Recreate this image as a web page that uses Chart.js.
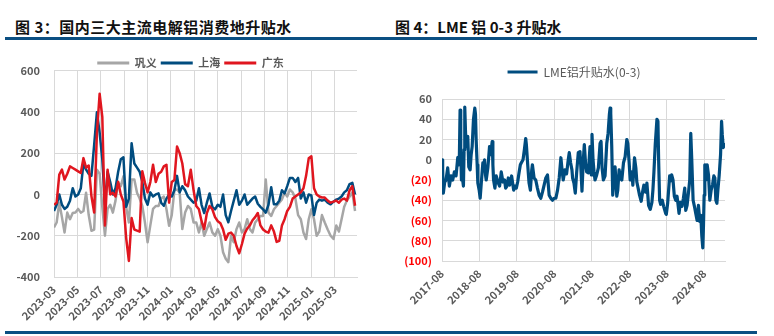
<!DOCTYPE html>
<html>
<head>
<meta charset="utf-8">
<script src="https://cdn.jsdelivr.net/npm/chart.js@4.4.1/dist/chart.umd.min.js"></script>
<style>
  body { margin: 0; background: #fff; width: 774px; height: 336px; position: relative; overflow: hidden; font-family: "Noto Sans CJK SC", sans-serif; }
  .title { position: absolute; top: 16px; font-size: 15px; font-weight: bold; color: #111; white-space: nowrap; }
  .rule { position: absolute; height: 3px; background: #0b4f82; }
  .box { position: absolute; top: 50px; height: 281px; }
</style>
</head>
<body>
<div class="title" style="left:15px;letter-spacing:0.5px">图 3：国内三大主流电解铝消费地升贴水</div>
<div class="title" style="left:395px">图 4：LME 铝 0-3 升贴水</div>
<div class="rule" style="left:5px;width:382px;top:37px"></div>
<div class="rule" style="left:387px;width:370px;top:37px"></div>
<div class="rule" style="left:5px;width:382px;top:331px"></div>
<div class="rule" style="left:387px;width:370px;top:331px"></div>
<div class="box" style="left:0;width:387px"><canvas id="c1"></canvas></div>
<div class="box" style="left:387px;width:370px"><canvas id="c2"></canvas></div>
<script>
// 图3: weekly samples
const weekDates = [
  "2023-03-01","2023-03-08","2023-03-15","2023-03-22","2023-03-29","2023-04-05","2023-04-12","2023-04-19","2023-04-26",
  "2023-05-03","2023-05-10","2023-05-17","2023-05-24","2023-05-31","2023-06-07","2023-06-14","2023-06-21","2023-06-28",
  "2023-07-05","2023-07-12","2023-07-19","2023-07-26","2023-08-02","2023-08-09","2023-08-16","2023-08-23","2023-08-30",
  "2023-09-06","2023-09-13","2023-09-20","2023-09-27","2023-10-04","2023-10-11","2023-10-18","2023-10-25",
  "2023-11-01","2023-11-08","2023-11-15","2023-11-22","2023-11-29","2023-12-06","2023-12-13","2023-12-20","2023-12-27",
  "2024-01-03","2024-01-10","2024-01-17","2024-01-24","2024-01-31","2024-02-07","2024-02-14","2024-02-21","2024-02-28",
  "2024-03-06","2024-03-13","2024-03-20","2024-03-27","2024-04-03","2024-04-10","2024-04-17","2024-04-24",
  "2024-05-01","2024-05-08","2024-05-15","2024-05-22","2024-05-29","2024-06-05","2024-06-12","2024-06-19","2024-06-26",
  "2024-07-03","2024-07-10","2024-07-17","2024-07-24","2024-07-31","2024-08-07","2024-08-14","2024-08-21","2024-08-28",
  "2024-09-04","2024-09-11","2024-09-18","2024-09-25","2024-10-02","2024-10-09","2024-10-16","2024-10-23","2024-10-30",
  "2024-11-06","2024-11-13","2024-11-20","2024-11-27","2024-12-04","2024-12-11","2024-12-18","2024-12-25",
  "2025-01-01","2025-01-08","2025-01-15","2025-01-22","2025-01-29","2025-02-05","2025-02-12","2025-02-19","2025-02-26",
  "2025-03-05","2025-03-12","2025-03-19","2025-03-26","2025-04-02","2025-04-09","2025-04-16","2025-04-23"
];
const gongyi = [
  -160,-136,-40,-110,-184,-88,-120,-90,-88,-70,
  -88,-80,8,-100,-176,-170,120,100,-60,-200,
  -70,-50,-88,-30,56,40,88,-60,-136,72,
  72,8,-20,-56,-136,-232,-150,-70,-56,-56,
  -20,-10,-72,-152,-100,20,24,10,-168,-88,
  -56,-70,-136,-136,-184,-136,-200,-168,-136,-184,
  -200,-168,-200,-280,-312,-328,-200,-232,-168,-136,
  -184,-168,-120,-168,-184,-136,-120,-104,-104,72,
  -88,-104,-72,-56,-40,-24,8,-10,24,10,
  -20,-100,-120,-184,-216,-120,-72,-120,-200,-180,
  -100,-136,-170,-200,-216,-150,-180,-120,-60,-30,
  -10,10,-80
];
const shanghai = [
  -80,-50,0,-50,-70,-60,-30,30,-10,0,
  30,150,120,100,90,240,398,300,170,-50,
  110,60,0,30,110,170,180,-60,-20,248,
  150,130,110,60,-20,-50,10,-10,0,5,
  -40,-55,-20,0,-10,20,90,10,40,20,
  -10,-25,-40,-30,30,-50,-90,-40,5,-60,
  -72,-50,-60,0,-100,-135,-80,-30,20,-50,
  -30,0,-50,-35,-20,-10,-45,-60,-72,-88,
  -50,35,-48,-48,-30,20,5,40,80,80,
  60,80,-20,10,-40,0,-5,-100,-40,-25,
  -30,-25,-40,-48,-35,-25,-20,-10,10,20,
  50,56,0
];
const guangdong = [
  -50,-40,96,120,72,100,136,128,120,112,
  104,176,130,140,-8,-88,296,488,376,-150,
  120,0,8,-10,62,0,-34,-210,-322,-114,
  -170,-175,-180,112,56,10,60,144,60,100,
  110,136,144,-40,60,70,232,200,150,50,
  40,120,20,-56,-72,-130,-168,-90,-56,-72,
  -110,-130,-140,-170,-220,-190,-185,-200,-250,-285,
  -240,-190,-165,-150,-125,-110,-90,-150,-170,-180,
  -185,-150,-180,-230,-225,-150,-120,-80,-60,-20,
  -10,0,10,30,90,175,185,30,0,-10,
  -15,-15,-30,-40,-35,-30,-40,-25,-20,-30,
  20,40,-55
];
const ticks1 = [0, 2, 4, 6, 8, 10, 12, 14, 16, 18, 20, 22, 24]; // months after 2023-03

// 图4: months after 2017-08
const lmeT = [
  0,0.21,0.43,0.86,1.29,1.82,2.36,2.89,3.43,3.97,4.50,5.04,5.36,5.57,5.79,6.00,6.22,6.54,6.86,7.07,
  7.29,7.50,7.72,8.04,8.25,8.57,9.00,9.33,9.65,10.08,10.50,10.72,10.93,11.26,11.47,11.90,12.22,12.65,13.08,13.40,
  13.61,13.93,14.15,14.68,15.22,15.54,16.08,16.29,16.51,16.94,17.36,17.90,18.44,18.97,19.51,20.04,20.37,20.79,21.22,21.65,
  22.29,22.94,23.37,23.79,24.22,24.65,25.08,25.40,25.94,26.37,26.80,27.01,27.44,27.87,28.30,28.73,28.94,29.48,30.01,30.55,
  31.09,31.62,32.16,32.69,33.23,33.77,34.30,34.84,35.38,35.91,36.45,36.99,37.52,38.06,38.49,38.81,39.34,39.88,40.42,40.74,
  41.17,41.60,41.81,42.24,42.67,43.10,43.63,44.17,44.49,44.81,45.24,45.56,45.99,46.31,46.85,47.38,47.81,48.02,48.35,48.67,
  48.99,49.52,50.06,50.60,50.92,51.24,51.67,52.20,52.74,53.17,53.59,53.81,54.02,54.34,54.66,55.09,55.41,55.95,56.27,56.70,
  57.13,57.56,58.10,58.63,59.17,59.49,59.92,60.24,60.56,60.88,61.09,61.63,62.06,62.38,62.92,63.24,63.77,64.20,64.63,65.17,
  65.60,66.13,66.67,67.20,67.52,67.85,68.27,68.81,69.13,69.35,69.67,69.99,70.53,70.96,71.60,71.81,72.24,72.88,73.20,73.53,
  73.95,74.38,74.81,75.24,75.56,75.88,76.31,76.85,77.28,77.71,78.03,78.46,78.99,79.31,79.64,79.96,80.39,80.81,81.24,81.67,
  82.10,82.53,82.85,83.17,83.49,83.71,83.92,84.14,84.46,84.89,85.32,85.74,86.17,86.60,87.03,87.35,87.67,88.00,88.32,88.75,
  89.18,89.50,89.72,90.04,90.36,90.58
];
const lmeSpread = [
  0,-10,-33,-22,-20,-8,-26,-16,-20,-12,-16,2,-5,5,49,10,-20,-18,-26,10,
  52,30,13,20,23,-7,-10,5,13,40,51,45,20,-5,-23,-30,-38,-20,-3,-10,
  0,-15,-20,-8,13,5,18,-5,-20,-28,-16,-22,-26,-12,-22,-20,-28,-26,-18,-25,
  -16,-30,-26,-28,-22,-13,-5,-3,0,10,21,15,-5,-23,-30,-10,-5,-18,-20,-28,
  -35,-38,-32,-25,-18,-15,-35,-38,-40,-38,-38,-30,-18,2,-12,-20,-10,-14,0,7,
  -3,-10,-18,-23,-33,-13,7,8,-10,-31,0,15,-5,-12,-13,13,-15,25,0,-12,
  -20,-15,-8,16,18,-8,-20,-16,16,26,45,51,46,13,-35,-15,-7,-36,-30,-10,
  -18,-20,-3,3,20,16,-3,-20,-12,-15,-25,2,-8,-22,-30,-35,-41,-32,-25,-32,
  -23,-45,-49,-42,-30,-12,15,40,38,0,-40,-44,-40,-46,-53,-54,-43,-16,-21,-15,
  -20,-36,-40,-36,-44,-53,-42,-46,-38,-28,-50,-45,-30,-20,26,0,-40,-46,-53,-60,
  -45,-61,-55,-75,-87,-65,-35,-5,-20,-5,-15,-40,-30,-25,-16,-18,-40,-43,-30,-15,
  5,38,25,12,15,16
];
const ticks2 = [0, 12, 24, 36, 48, 60, 72, 84];

const grey = "#595959";
const gridColor = "#d9d9d9";
const tickFont = { family: "Noto Sans CJK SC", size: 11, weight: "bold" };

function monthsFrom2303(d) {
  const [y, m, day] = d.split("-").map(Number);
  const dim = new Date(y, m, 0).getDate();
  return (y - 2023) * 12 + (m - 3) + (day - 1) / dim;
}
function ymLabel(y0, m0, off) {
  const t = y0 * 12 + (m0 - 1) + off;
  const y = Math.floor(t / 12), m = t % 12 + 1;
  return y + "-" + String(m).padStart(2, "0");
}
function pts(xs, ys) {
  return ys.map((v, i) => ({ x: xs[i], y: v }));
}
function series(label, xs, ys, color, width, order) {
  return {
    label, data: pts(xs, ys), order,
    borderColor: color, backgroundColor: color, borderWidth: width,
    pointBorderColor: color, pointBackgroundColor: color, pointBorderWidth: 3
  };
}

// fixed legend height and a sideways nudge
const legendBox = {
  id: "legendBox",
  beforeLayout(chart, args, opts) {
    const lg = chart.legend;
    if (!lg || lg._wrapped) return;
    const fit = lg.fit;
    lg.fit = function () { fit.call(this); if (opts.height) this.height = opts.height; };
    lg._wrapped = true;
  },
  afterLayout(chart, args, opts) {
    const lg = chart.legend;
    if (lg && opts.shift) { lg.left += opts.shift; lg.right += opts.shift; }
  }
};

const x1 = weekDates.map(monthsFrom2303);

new Chart(document.getElementById("c1"), {
  type: "line",
  data: {
    datasets: [
      series("巩义", x1, gongyi, "#a6a6a6", 2.5, 2),
      series("上海", x1, shanghai, "#004c7f", 2.5, 1),
      series("广东", x1, guangdong, "#e0161f", 2.5, 0)
    ]
  },
  options: {
    responsive: true,
    maintainAspectRatio: false,
    animation: false,
    layout: { padding: { top: 3, right: 30, bottom: 0, left: 0 } },
    elements: { line: { tension: 0, borderJoinStyle: "round" }, point: { radius: 0, pointStyle: "line" } },
    plugins: {
      legend: {
        position: "top",
        labels: {
          usePointStyle: true, pointStyle: "line", pointStyleWidth: 32, padding: 4, color: grey, font: tickFont,
          sort: (a, b) => a.datasetIndex - b.datasetIndex
        }
      },
      legendBox: { height: 17, shift: 12 },
      tooltip: { enabled: false }
    },
    scales: {
      x: {
        type: "linear", min: 0, max: 25.9,
        afterBuildTicks: s => { s.ticks = ticks1.map(v => ({ value: v })); },
        afterFit: s => { s.height = 54; },
        grid: { color: gridColor, drawTicks: false },
        border: { color: gridColor },
        ticks: { autoSkip: false, maxRotation: 45, minRotation: 45, padding: 6, color: grey, font: tickFont,
          callback: v => ymLabel(2023, 3, v) }
      },
      y: {
        min: -400, max: 600,
        afterFit: s => { s.width = 54; },
        grid: { color: gridColor, drawTicks: false },
        border: { color: gridColor },
        ticks: { stepSize: 200, padding: 14, color: grey, font: tickFont }
      }
    }
  },
  plugins: [legendBox]
});

new Chart(document.getElementById("c2"), {
  type: "line",
  data: {
    datasets: [
      series("LME铝升贴水(0-3)", lmeT, lmeSpread, "#004c7f", 3.2, 0)
    ]
  },
  options: {
    responsive: true,
    maintainAspectRatio: false,
    animation: false,
    layout: { padding: { top: 12, right: 32, bottom: 14, left: 0 } },
    elements: { line: { tension: 0, borderJoinStyle: "round" }, point: { radius: 0, pointStyle: "line" } },
    plugins: {
      legend: {
        position: "top",
        labels: { usePointStyle: true, pointStyle: "line", pointStyleWidth: 30, padding: 4, color: grey,
          font: { family: "Noto Sans CJK SC", size: 12 } }
      },
      legendBox: { height: 37, shift: 18 },
      tooltip: { enabled: false }
    },
    scales: {
      x: {
        type: "linear", min: 0, max: 90.6,
        afterBuildTicks: s => { s.ticks = ticks2.map(v => ({ value: v })); },
        afterFit: s => { s.height = 56; },
        grid: { color: gridColor, drawTicks: false },
        border: { color: gridColor },
        ticks: { autoSkip: false, maxRotation: 45, minRotation: 45, padding: 6, color: grey, font: tickFont,
          callback: v => ymLabel(2017, 8, v) }
      },
      y: {
        min: -100, max: 60,
        afterFit: s => { s.width = 55; },
        grid: { color: gridColor, drawTicks: false },
        border: { color: gridColor },
        ticks: { stepSize: 20, padding: 10, font: tickFont,
          color: c => c.tick.value < 0 ? "#ff0000" : grey,
          callback: v => v < 0 ? "(" + Math.abs(v) + ")" : String(v) }
      }
    }
  },
  plugins: [legendBox]
});
</script>
</body>
</html>
